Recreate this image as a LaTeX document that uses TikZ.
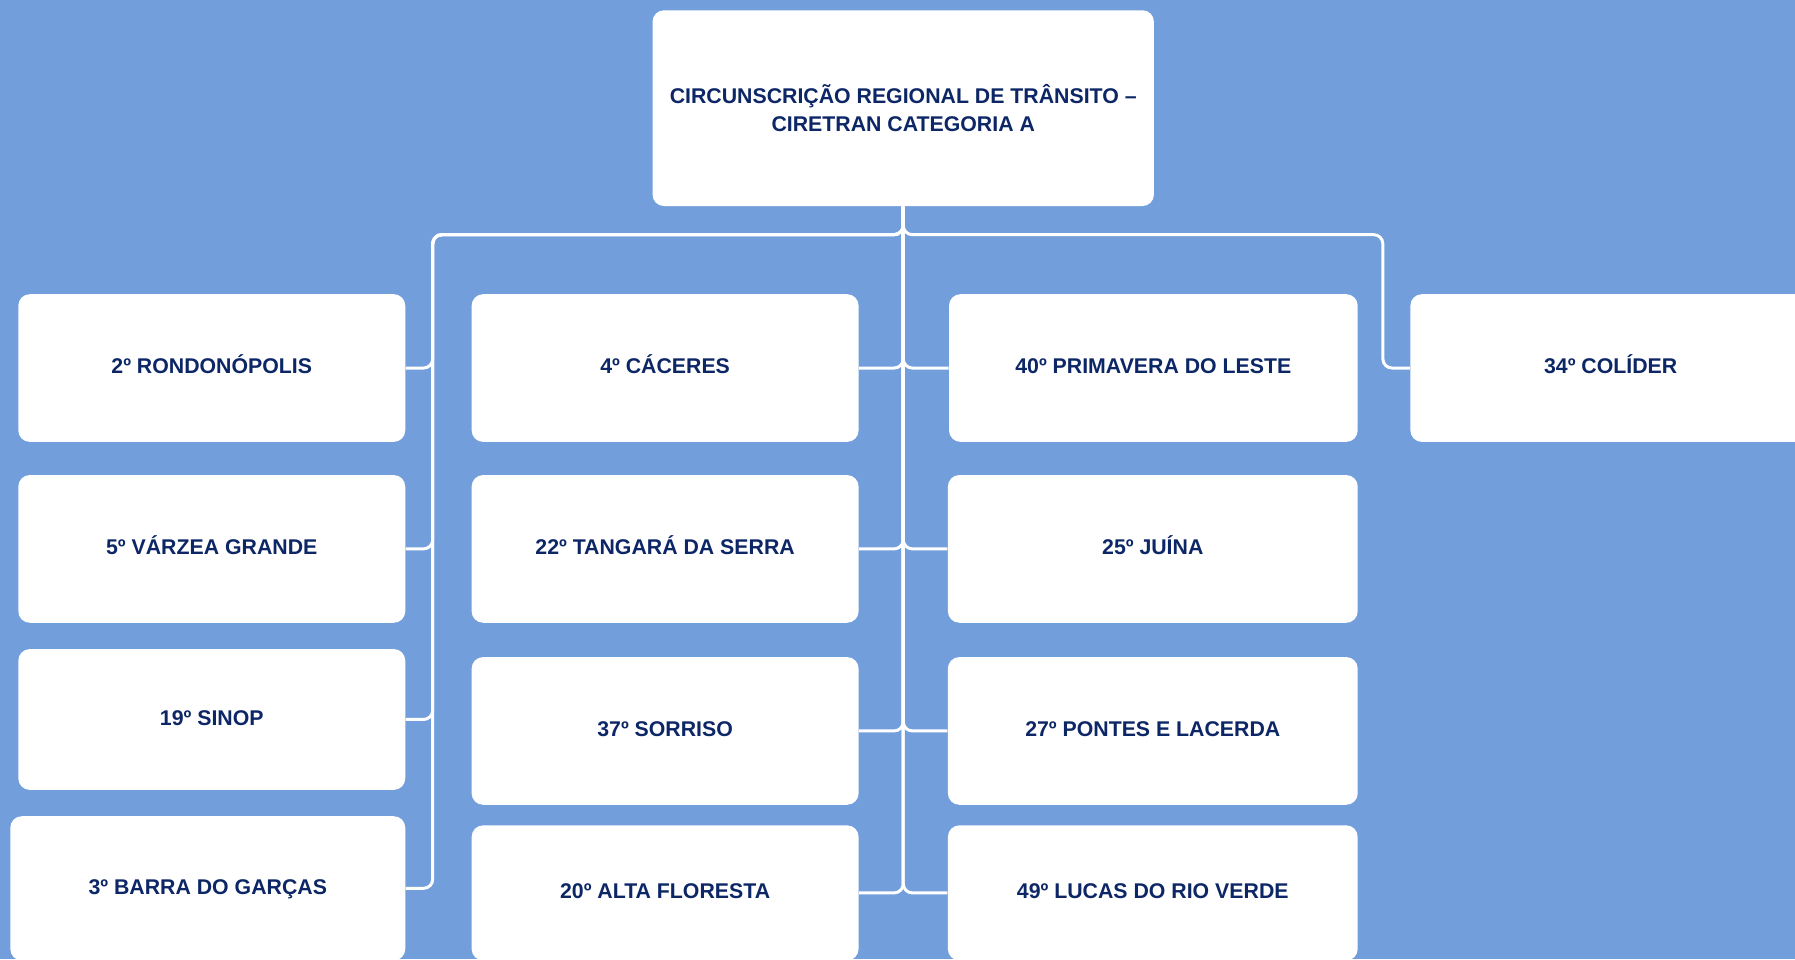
\documentclass[tikz,border=0pt]{standalone}
\usepackage{fontspec}
\setmainfont{Liberation Sans}
\usepackage{xcolor}
\usepackage{tikz}
\usetikzlibrary{calc}
\definecolor{bgblue}{RGB}{114,159,219}
\definecolor{navy}{RGB}{12,38,102}

\begin{document}
\begin{tikzpicture}[x=0.5pt,y=-0.5pt,
  box/.style={fill=white,rounded corners=5pt,text=navy,align=center,inner sep=0pt,
    font=\bfseries\fontsize{9.3}{12}\selectfont,minimum width=169pt,minimum height=64.5pt},
  city/.style={box,text height=6pt,text depth=0.8pt},
  link/.style={draw=white,line width=1.3pt,rounded corners=4pt}]
\useasboundingbox (0,0) rectangle (1568,838);
\fill[bgblue] (0,0) rectangle (1568,838);
\clip (0,0) rectangle (1568,838);

\node[box,minimum width=219pt,minimum height=85.5pt] (top) at (789,94.5) {CIRCUNSCRIÇÃO REGIONAL DE TRÂNSITO –\\CIRETRAN CATEGORIA A};

\node[city] (rond) at (185,321.5) {2º RONDONÓPOLIS};
\node[city] (varzea) at (185,479.5) {5º VÁRZEA GRANDE};
\node[city,minimum height=61.5pt] (sinop) at (185,628.5) {19º SINOP};
\node[city,minimum width=172.5pt,minimum height=63pt] (barra) at (181.5,776) {3º BARRA DO GARÇAS};

\node[city] (caceres) at (581,321.5) {4º CÁCERES};
\node[city] (tangara) at (581,479.5) {22º TANGARÁ DA SERRA};
\node[city] (sorriso) at (581,638.5) {37º SORRISO};
\node[city,minimum height=59pt] (alta) at (581,780) {20º ALTA FLORESTA};

\node[city,minimum width=178.5pt] (primavera) at (1007.5,321.5) {40º PRIMAVERA DO LESTE};
\node[city,minimum width=179pt] (juina) at (1007,479.5) {25º JUÍNA};
\node[city,minimum width=179pt] (pontes) at (1007,638.5) {27º PONTES E LACERDA};
\node[city,minimum width=179pt,minimum height=59pt] (lucas) at (1007,780) {49º LUCAS DO RIO VERDE};

\node[city,minimum width=175pt] (colider) at (1407,321.5) {34º COLÍDER};

\coordinate (busL) at (378,205);
\coordinate (busR) at (1208,205);

\foreach \n in {rond,varzea,sinop,barra}
  \draw[link] (top.south) |- (busL) |- (\n.east);
\foreach \n in {caceres,tangara,sorriso,alta}
  \draw[link] (top.south) |- (\n.east);
\foreach \n in {primavera,juina,pontes,lucas}
  \draw[link] (top.south) |- (\n.west);
\draw[link] (top.south) |- (busR) |- (colider.west);
\end{tikzpicture}
\end{document}
